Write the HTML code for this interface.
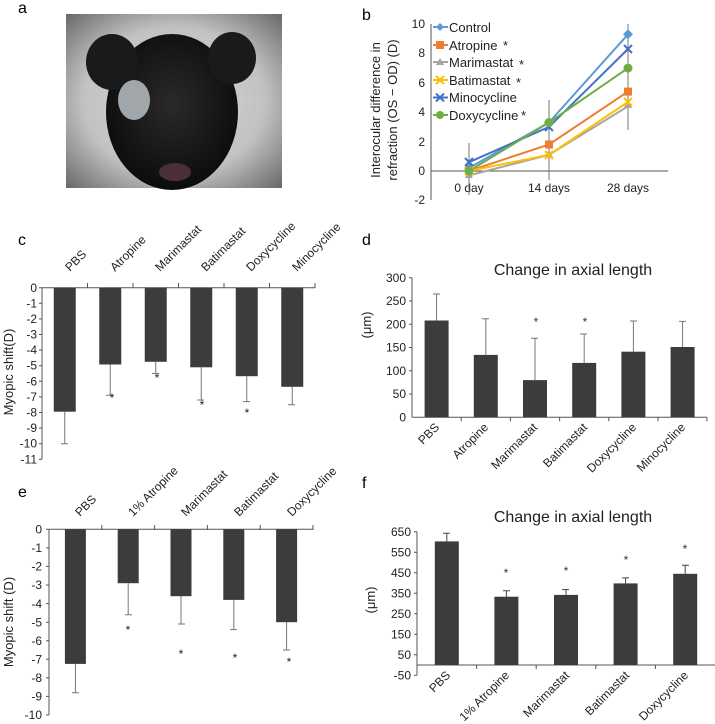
<!DOCTYPE html>
<html><head><meta charset="utf-8"><style>
body{margin:0;background:#fff}
svg{display:block;font-family:"Liberation Sans",sans-serif}
</style></head><body>
<svg width="715" height="724" viewBox="0 0 715 724" xmlns="http://www.w3.org/2000/svg">
<defs>
<radialGradient id="bg" cx="50%" cy="50%" r="70%"><stop offset="0" stop-color="#d8d8d8"/><stop offset="0.6" stop-color="#c2c2c2"/><stop offset="1" stop-color="#6a6a6a"/></radialGradient>
<radialGradient id="head" cx="50%" cy="45%" r="55%"><stop offset="0" stop-color="#2a2a2a"/><stop offset="1" stop-color="#0c0c0c"/></radialGradient>
</defs>
<!-- a -->
<text x="18" y="13" font-size="16">a</text>
<rect x="66" y="14" width="216" height="174" fill="url(#bg)"/>
<ellipse cx="172" cy="112" rx="66" ry="78" fill="url(#head)"/>
<ellipse cx="112" cy="62" rx="26" ry="28" fill="#1a1a1a"/>
<ellipse cx="232" cy="58" rx="24" ry="26" fill="#1a1a1a"/>
<ellipse cx="134" cy="100" rx="16" ry="20" fill="#b8c0c4" opacity="0.85"/>
<ellipse cx="175" cy="172" rx="16" ry="9" fill="#4a3036"/>
<!-- b -->
<text x="362" y="20" font-size="16">b</text>
<g font-size="12" text-anchor="end" fill="#222">
<text x="425" y="28">10</text><text x="425" y="57">8</text><text x="425" y="87">6</text><text x="425" y="116">4</text><text x="425" y="146">2</text><text x="425" y="175">0</text><text x="425" y="204">-2</text>
</g>
<line x1="431" y1="24" x2="431" y2="200" stroke="#555"/>
<line x1="431" y1="171" x2="668" y2="171" stroke="#555"/>
<g font-size="12" text-anchor="middle" fill="#222"><text x="469" y="192">0 day</text><text x="549" y="192">14 days</text><text x="628" y="192">28 days</text></g>
<text transform="translate(380,110) rotate(-90)" font-size="13" text-anchor="middle" fill="#222">Interocular difference in</text>
<text transform="translate(397,110) rotate(-90)" font-size="13" text-anchor="middle" fill="#222">refraction (OS − OD) (D)</text>
<g stroke="#777" stroke-width="1">
<line x1="469" y1="143" x2="469" y2="195"/><line x1="549" y1="100" x2="549" y2="180"/><line x1="628" y1="24" x2="628" y2="130"/>
</g>
<polyline points="469,168 549,122.5 628,34.3" fill="none" stroke="#5b9bd5" stroke-width="2"/>
<polyline points="469,171 549,144.5 628,91.6" fill="none" stroke="#ed7d31" stroke-width="2"/>
<polyline points="469,175.4 549,154.8 628,106.3" fill="none" stroke="#a5a5a5" stroke-width="2"/>
<polyline points="469,171 549,154.8 628,101.9" fill="none" stroke="#ffc000" stroke-width="2"/>
<polyline points="469,162.2 549,126.9 628,49" fill="none" stroke="#4472c4" stroke-width="2"/>
<polyline points="469,171 549,122.5 628,68.1" fill="none" stroke="#70ad47" stroke-width="2"/>
<g fill="#5b9bd5"><path d="M469 163l5 5-5 5-5-5z"/><path d="M549 117.5l5 5-5 5-5-5z"/><path d="M628 29.3l5 5-5 5-5-5z"/></g>
<g fill="#ed7d31"><rect x="465" y="167" width="8" height="8"/><rect x="545" y="140.5" width="8" height="8"/><rect x="624" y="87.6" width="8" height="8"/></g>
<g fill="#a5a5a5"><path d="M469 171l4 7h-8z"/><path d="M549 150l4 7h-8z"/><path d="M628 101l4 7h-8z"/></g>
<g stroke="#ffc000" stroke-width="2"><path d="M465 167l8 8M473 167l-8 8M545 151l8 8M553 151l-8 8M624 98l8 8M632 98l-8 8"/></g>
<g stroke="#4472c4" stroke-width="2"><path d="M465 158l8 8M473 158l-8 8M545 123l8 8M553 123l-8 8M624 45l8 8M632 45l-8 8"/></g>
<g fill="#70ad47"><circle cx="469" cy="171" r="4.5"/><circle cx="549" cy="122.5" r="4.5"/><circle cx="628" cy="68.1" r="4.5"/></g>
<!-- legend -->
<g font-size="13" fill="#222">
<line x1="433" y1="27" x2="448" y2="27" stroke="#5b9bd5" stroke-width="2"/><path d="M440 23l4 4-4 4-4-4z" fill="#5b9bd5"/><text x="449" y="32">Control</text>
<line x1="433" y1="45" x2="448" y2="45" stroke="#ed7d31" stroke-width="2"/><rect x="436" y="41" width="8" height="8" fill="#ed7d31"/><text x="449" y="50">Atropine</text><text x="503" y="50">*</text>
<line x1="433" y1="62" x2="448" y2="62" stroke="#a5a5a5" stroke-width="2"/><path d="M440 58l4 7h-8z" fill="#a5a5a5"/><text x="449" y="67">Marimastat</text><text x="519" y="69">*</text>
<line x1="433" y1="80" x2="448" y2="80" stroke="#ffc000" stroke-width="2"/><path d="M436 76l8 8M444 76l-8 8" stroke="#ffc000" stroke-width="2"/><text x="449" y="85">Batimastat</text><text x="516" y="87">*</text>
<line x1="433" y1="97.5" x2="448" y2="97.5" stroke="#4472c4" stroke-width="2"/><path d="M436 93.5l8 8M444 93.5l-8 8" stroke="#4472c4" stroke-width="2"/><text x="449" y="102">Minocycline</text>
<line x1="433" y1="115" x2="448" y2="115" stroke="#70ad47" stroke-width="2"/><circle cx="440" cy="115" r="4" fill="#70ad47"/><text x="449" y="120">Doxycycline</text><text x="521" y="120">*</text>
</g>
<!-- c -->
<text x="18" y="245" font-size="16">c</text>
<g font-size="12" text-anchor="end" fill="#222">
<text x="37" y="292">0</text><text x="37" y="307.3">-1</text><text x="37" y="322.9">-2</text><text x="37" y="338.5">-3</text><text x="37" y="354.1">-4</text><text x="37" y="369.7">-5</text><text x="37" y="385.3">-6</text><text x="37" y="400.9">-7</text><text x="37" y="416.5">-8</text><text x="37" y="432.1">-9</text><text x="37" y="447.7">-10</text><text x="37" y="463.3">-11</text>
</g>
<line x1="42" y1="287.7" x2="42" y2="459.3" stroke="#555"/>
<line x1="42" y1="287.7" x2="315" y2="287.7" stroke="#555"/>
<g stroke="#555"><path d="M87.5 283v5M133 283v5M178.5 283v5M224 283v5M269.5 283v5M315 283v5M39 287.7h3M39 303.3h3M39 318.9h3M39 334.5h3M39 350.1h3M39 365.7h3M39 381.3h3M39 396.9h3M39 412.5h3M39 428.1h3M39 443.7h3M39 459.3h3"/></g>
<g stroke="#777"><path d="M64.75 411.7V443.7M61 443.7h7M110.25 364.5V395.3M106 395.3h7M155.75 361.8V373.5M152 373.5h7M201.25 367.3V400M197 400h7M246.75 376.2V401.6M243 401.6h7M292.25 386.8V404.7M288 404.7h7"/></g>
<g fill="#3c3c3c">
<rect x="53.75" y="287.7" width="22" height="124"/><rect x="99.25" y="287.7" width="22" height="76.8"/><rect x="144.75" y="287.7" width="22" height="74.1"/><rect x="190.25" y="287.7" width="22" height="79.6"/><rect x="235.75" y="287.7" width="22" height="88.5"/><rect x="281.25" y="287.7" width="22" height="99.1"/>
</g>
<g font-size="12" text-anchor="middle" fill="#222"><text x="112" y="402">*</text><text x="157" y="382">*</text><text x="202" y="409">*</text><text x="247" y="417">*</text></g>
<g font-size="12" fill="#222" text-anchor="start">
<text transform="translate(70,272) rotate(-45)">PBS</text>
<text transform="translate(115,272) rotate(-45)">Atropine</text>
<text transform="translate(160,272) rotate(-45)">Marimastat</text>
<text transform="translate(206,272) rotate(-45)">Batimastat</text>
<text transform="translate(251,272) rotate(-45)">Doxycycline</text>
<text transform="translate(297,272) rotate(-45)">Minocycline</text>
</g>
<text transform="translate(13,372) rotate(-90)" font-size="13" text-anchor="middle" fill="#222">Myopic shift(D)</text>
<!-- d -->
<text x="362" y="245" font-size="16">d</text>
<text x="573" y="275" font-size="16" text-anchor="middle" fill="#222">Change in axial length</text>
<g font-size="12" text-anchor="end" fill="#222">
<text x="406" y="421.5">0</text><text x="406" y="398.2">50</text><text x="406" y="375">100</text><text x="406" y="351.7">150</text><text x="406" y="328.4">200</text><text x="406" y="305.2">250</text><text x="406" y="281.9">300</text>
</g>
<line x1="412" y1="277.7" x2="412" y2="417.3" stroke="#555"/>
<line x1="412" y1="417.3" x2="707" y2="417.3" stroke="#555"/>
<g stroke="#555"><path d="M461.2 417.3v4M510.4 417.3v4M559.6 417.3v4M608.8 417.3v4M658 417.3v4M707 417.3v4M409 277.7h3M409 301h3M409 324.2h3M409 347.5h3M409 370.8h3M409 394h3"/></g>
<g stroke="#777"><path d="M436.6 320.5V294M433 294h7M485.8 354.9V318.7M482 318.7h7M535 380.1V338.2M531 338.2h7M584.2 362.9V334M580 334h7M633.4 351.7V321M630 321h7M682.6 347V321.4M679 321.4h7"/></g>
<g fill="#3c3c3c">
<rect x="424.6" y="320.5" width="24" height="96.8"/><rect x="473.8" y="354.9" width="24" height="62.4"/><rect x="523" y="380.1" width="24" height="37.2"/><rect x="572.2" y="362.9" width="24" height="54.4"/><rect x="621.4" y="351.7" width="24" height="65.6"/><rect x="670.6" y="347" width="24" height="70.3"/>
</g>
<g font-size="12" text-anchor="middle" fill="#1f3864"><text x="536" y="326">*</text><text x="585" y="326">*</text></g>
<g font-size="12" fill="#222" text-anchor="end">
<text transform="translate(440,428) rotate(-45)">PBS</text>
<text transform="translate(489,428) rotate(-45)">Atropine</text>
<text transform="translate(538,428) rotate(-45)">Marimastat</text>
<text transform="translate(588,428) rotate(-45)">Batimastat</text>
<text transform="translate(637,428) rotate(-45)">Doxycycline</text>
<text transform="translate(686,428) rotate(-45)">Minocycline</text>
</g>
<text transform="translate(371,325) rotate(-90)" font-size="13" text-anchor="middle" fill="#222">(μm)</text>
<!-- e -->
<text x="18" y="497" font-size="16">e</text>
<g font-size="12" text-anchor="end" fill="#222">
<text x="42" y="533.5">0</text><text x="42" y="552">-1</text><text x="42" y="570.6">-2</text><text x="42" y="589.2">-3</text><text x="42" y="607.8">-4</text><text x="42" y="626.4">-5</text><text x="42" y="645">-6</text><text x="42" y="663.5">-7</text><text x="42" y="682">-8</text><text x="42" y="700.6">-9</text><text x="42" y="719.2">-10</text>
</g>
<line x1="49" y1="529.3" x2="49" y2="715" stroke="#555"/>
<line x1="49" y1="529.3" x2="313" y2="529.3" stroke="#555"/>
<g stroke="#555"><path d="M101.8 525v5M154.6 525v5M207.4 525v5M260.2 525v5M313 525v5M46 529.3h3M46 547.9h3M46 566.4h3M46 585h3M46 603.6h3M46 622.2h3M46 640.7h3M46 659.3h3M46 677.9h3M46 696.4h3M46 715h3"/></g>
<g stroke="#777"><path d="M75.4 663.9V692.7M72 692.7h7M128.2 583.2V614.7M125 614.7h7M181 596.2V624M178 624h7M233.8 599.9V629.6M230 629.6h7M286.6 622.2V650M283 650h7"/></g>
<g fill="#3c3c3c">
<rect x="64.9" y="529.3" width="21" height="134.6"/><rect x="117.7" y="529.3" width="21" height="53.9"/><rect x="170.5" y="529.3" width="21" height="66.9"/><rect x="223.3" y="529.3" width="21" height="70.6"/><rect x="276.1" y="529.3" width="21" height="92.9"/>
</g>
<g font-size="12" text-anchor="middle" fill="#222"><text x="128" y="634">*</text><text x="181" y="658">*</text><text x="235" y="662">*</text><text x="289" y="666">*</text></g>
<g font-size="12" fill="#222" text-anchor="start">
<text transform="translate(80,517) rotate(-45)">PBS</text>
<text transform="translate(133,517) rotate(-45)">1% Atropine</text>
<text transform="translate(186,517) rotate(-45)">Marimastat</text>
<text transform="translate(239,517) rotate(-45)">Batimastat</text>
<text transform="translate(292,517) rotate(-45)">Doxycycline</text>
</g>
<text transform="translate(13,622) rotate(-90)" font-size="13" text-anchor="middle" fill="#222">Myopic shift (D)</text>
<!-- f -->
<text x="362" y="488" font-size="16">f</text>
<text x="573" y="522" font-size="16" text-anchor="middle" fill="#222">Change in axial length</text>
<g font-size="12" text-anchor="end" fill="#222">
<text x="411" y="536">650</text><text x="411" y="556.5">550</text><text x="411" y="577">450</text><text x="411" y="597.5">350</text><text x="411" y="618">250</text><text x="411" y="638.5">150</text><text x="411" y="659">50</text><text x="411" y="679.5">-50</text>
</g>
<line x1="417" y1="531.8" x2="417" y2="675.3" stroke="#555"/>
<line x1="417" y1="665" x2="715" y2="665" stroke="#555"/>
<g stroke="#555"><path d="M476.6 665v4M536.2 665v4M595.8 665v4M655.4 665v4M414 531.8h3M414 552.3h3M414 572.8h3M414 593.3h3M414 613.8h3M414 634.3h3M414 654.8h3M414 675.3h3"/></g>
<g stroke="#444"><path d="M446.8 541.4V533.2M443 533.2h7M506.4 596.7V590.8M503 590.8h7M566 594.9V589.6M562 589.6h7M625.6 583.4V577.9M622 577.9h7M685.2 573.8V565.2M682 565.2h7"/></g>
<g fill="#3c3c3c">
<rect x="434.8" y="541.4" width="24" height="123.6"/><rect x="494.4" y="596.7" width="24" height="68.3"/><rect x="554" y="594.9" width="24" height="70.1"/><rect x="613.6" y="583.4" width="24" height="81.6"/><rect x="673.2" y="573.8" width="24" height="91.2"/>
</g>
<g font-size="12" text-anchor="middle" fill="#1f3864"><text x="506" y="577">*</text><text x="566" y="575">*</text><text x="626" y="564">*</text><text x="685" y="553">*</text></g>
<g font-size="12" fill="#222" text-anchor="end">
<text transform="translate(451,676) rotate(-45)">PBS</text>
<text transform="translate(510,676) rotate(-45)">1% Atropine</text>
<text transform="translate(570,676) rotate(-45)">Marimastat</text>
<text transform="translate(630,676) rotate(-45)">Batimastat</text>
<text transform="translate(689,676) rotate(-45)">Doxycycline</text>
</g>
<text transform="translate(375,600) rotate(-90)" font-size="13" text-anchor="middle" fill="#222">(μm)</text>
</svg>
</body></html>
